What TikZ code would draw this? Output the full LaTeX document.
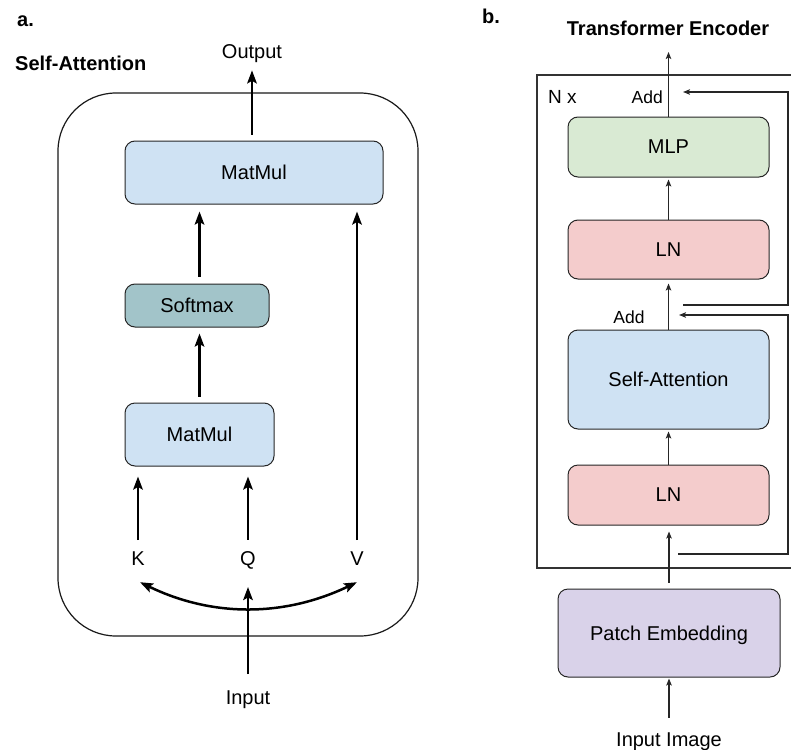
\documentclass[tikz,border=0pt]{standalone}
\usepackage{fontspec}
\setmainfont{Liberation Sans}
\usetikzlibrary{arrows.meta,calc}
\definecolor{blueF}{RGB}{207,226,243}
\definecolor{softF}{RGB}{162,196,201}
\definecolor{greenF}{RGB}{217,234,211}
\definecolor{redF}{RGB}{244,204,204}
\definecolor{purpleF}{RGB}{217,210,233}
\newcommand\myfsz{\fontsize{20}{24}\selectfont}
\newcommand\mysmall{\fontsize{17.5}{21}\selectfont}
\begin{document}
\begin{tikzpicture}[x=1pt,y=-1pt,
  boxa/.style={draw=black!85,line width=1pt,rounded corners=10pt,inner sep=0pt,
    font=\myfsz,text depth=0pt,align=center},
  lbl/.style={inner sep=0pt,font=\myfsz},
  arrA/.style={line width=2.5pt,-{Stealth[length=13pt,width=9.5pt,inset=2.5pt]}},
  dblA/.style={line width=2.5pt,{Stealth[length=13pt,width=9.5pt,inset=2.5pt]}-{Stealth[length=13pt,width=9.5pt,inset=2.5pt]}},
  arrB/.style={line width=1.1pt,draw=black!85,-{Stealth[length=7pt,width=5.5pt,inset=1.5pt]}},
  lnB/.style={line width=1.1pt}]
\useasboundingbox (0,0) rectangle (791,749);

% ---------------- panel a ----------------
\node[lbl,anchor=base west,font=\myfsz\bfseries] (la) at (17,27) {a.};
\node[lbl,anchor=base west,font=\myfsz\bfseries] (tSA) at (15,71) {Self-Attention};
\node[draw=black!90,line width=1.2pt,rounded corners=58pt,minimum width=360pt,minimum height=543pt,inner sep=0pt] (frameA) at (238,364.5) {};
\node[boxa,fill=blueF,minimum width=258pt,minimum height=63pt] (mmTop) at (254,172.5) {MatMul};
\node[boxa,fill=softF,minimum width=144pt,minimum height=43pt] (soft) at (197,305.5) {Softmax};
\node[boxa,fill=blueF,minimum width=149pt,minimum height=63pt] (mmLow) at (199.5,434.5) {MatMul};
\node[lbl,anchor=base] (K) at (138,565) {K};
\node[lbl,anchor=base] (Q) at (248,565) {Q};
\node[lbl,anchor=base] (V) at (357,565) {V};
\node[lbl,anchor=base] (Output) at (252,59) {Output};
\node[lbl,anchor=base] (Input) at (248,704) {Input};

\draw[arrA,shorten <=6pt,shorten >=7pt] (Output.south |- mmTop.north) -- (Output.south);
\draw[arrA,shorten <=7pt,shorten >=7pt] (mmLow.north |- soft.north) -- (mmLow.north |- mmTop.south);
\draw[arrA,shorten <=6pt,shorten >=6pt] (mmLow.north) -- (mmLow.north |- soft.south);
\draw[arrA,shorten <=11pt,shorten >=10pt] (K.north) -- (K.north |- mmLow.south);
\draw[arrA,shorten <=11pt,shorten >=10pt] (Q.north) -- (Q.north |- mmLow.south);
\draw[arrA,shorten <=11pt,shorten >=7pt] (V.north) -- (V.north |- mmTop.south);
\draw[arrA,shorten <=16pt,shorten >=18pt] (Input.north) -- (Q.south);
\draw[dblA] ($(K.south)+(2,17)$) .. controls ($(K.south)+(74,52)$) and ($(V.south)+(-73,52)$) .. ($(V.south)+(0,17)$);

% ---------------- panel b ----------------
\node[lbl,anchor=base west,font=\myfsz\bfseries] (lb) at (482,24) {b.};
\node[lbl,anchor=base,font=\myfsz\bfseries] (TE) at (668,36) {Transformer Encoder};
\draw[lnB,draw=black!80] (537,75) rectangle (796,568);
\node[lbl,anchor=base west,font=\fontsize{19}{22}\selectfont] (Nx) at (548,103) {N x};
\node[lbl,anchor=base east,font=\mysmall] (addTop) at (663,103) {Add};
\node[lbl,anchor=base,font=\mysmall] (addMid) at (629,323) {Add};

\node[boxa,fill=greenF,minimum width=201pt,minimum height=60pt] (MLP) at (668.5,147) {MLP};
\node[boxa,fill=redF,minimum width=201pt,minimum height=59pt] (LN2) at (668.5,249.5) {LN};
\node[boxa,fill=blueF,minimum width=201pt,minimum height=99pt] (SA) at (668.5,379.5) {Self-Attention};
\node[boxa,fill=redF,minimum width=201pt,minimum height=60pt] (LN1) at (668.5,495) {LN};
\node[boxa,fill=purpleF,minimum width=222pt,minimum height=88pt] (PE) at (669,633) {Patch Embedding};
\node[lbl,anchor=base] (InImg) at (669,746) {Input Image};

\coordinate (outB) at (668.5,52);
\draw[arrB,shorten >=1pt,shorten <=14.5pt] (InImg.north) -- (PE.south);
\draw[arrB,shorten <=6pt,shorten >=6pt] (PE.north) -- (PE.north |- LN1.south);
\draw[arrB,shorten >=2pt] (LN1.north) -- (SA.south);
\draw[arrB,shorten >=4pt] (SA.north) -- (LN2.south);
\draw[arrB,shorten >=2pt] (LN2.north) -- (MLP.south);
\draw[arrB] (MLP.north) -- (outB);

\coordinate (rx) at (788,0);
\coordinate (r1a) at (683,305);
\coordinate (r1b) at (683,92);
\coordinate (r2a) at (678,554);
\coordinate (r2b) at (679,315);
\draw[arrB] (r1a) -- (r1a -| rx) -- (r1b -| rx) -- (r1b);
\draw[arrB] (r2a) -- (r2a -| rx) -- (r2b -| rx) -- (r2b);
\end{tikzpicture}
\end{document}
